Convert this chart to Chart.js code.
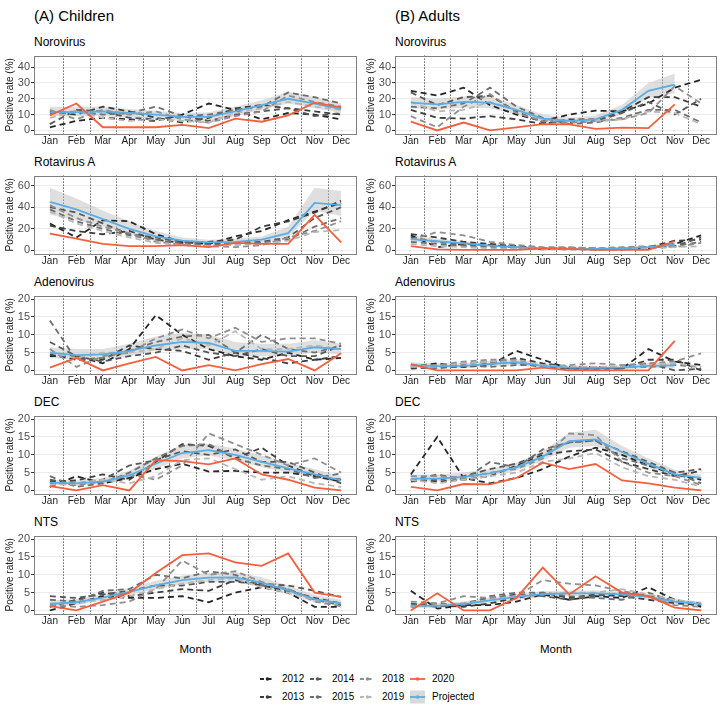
<!DOCTYPE html>
<html><head><meta charset="utf-8">
<script src="https://cdn.jsdelivr.net/npm/chart.js@4.4.1/dist/chart.umd.min.js"></script>
<style>
html,body{margin:0;padding:0;background:#fff;}
#wrap{position:relative;width:722px;height:718px;font-family:"Liberation Sans",Arial,Helvetica,sans-serif;color:#000;overflow:hidden;background:#fff}
.t{position:absolute;white-space:nowrap;line-height:1}
canvas.p{position:absolute}
svg.k{position:absolute}
</style></head><body><div id="wrap"></div>
<script>
const months = ['Jan','Feb','Mar','Apr','May','Jun','Jul','Aug','Sep','Oct','Nov','Dec'];
const years = ['2012','2013','2014','2015','2018','2019'];

// ---------- Children ----------
const chNoroHist = [
  [2,6,8,7,6,10,17,13,7,11,10,7],
  [12,10,15,12,8,5,8,14,16,14,12,10],
  [4,13,12,8,7,9,6,10,12,14,9,11],
  [11,12,10,11,15,9,10,13,15,24,21,17],
  [13,7,13,10,12,7,5,9,12,22,18,15],
  [8,12,8,6,7,6,5,11,14,18,15,13]];
const chNoro2020 = [9.5,17,2,2,2,3.5,1.5,7.5,5.5,9.5,17.5,14.5];
const chNoroProj = [11.5,11.5,12,11,10,8.5,8.5,12,16,20,17,13.5];
const chNoroLo = [9,9,9,8,7.5,6,6,9,13,17,14,11];
const chNoroHi = [15,15,15,13.5,12.5,11,11.5,15,19,24.5,21,17];

const chRotaHist = [
  [25,12,28,27,15,8,6,13,18,28,36,44],
  [23,18,15,18,10,7,8,10,22,27,35,46],
  [40,35,25,15,12,8,6,7,8,12,30,40],
  [38,27,20,14,10,6,5,6,7,10,22,30],
  [42,30,22,16,8,5,4,3,5,12,18,27],
  [36,25,18,12,7,5,4,5,6,9,17,19]];
const chRota2020 = [15.5,11,6,4,4,5,3,7,6,6,33,7.5];
const chRotaProj = [45,38,29,20,13,9,7.5,8,10,16,44,42];
const chRotaLo = [33,28,22,15,9,6,5,5.5,7,12,37,32];
const chRotaHi = [58,48,37,27,18,12,10,11,13,22,58,55];

const chAdenoHist = [
  [4,4,2,6,15.5,10,6,4,3,5,3,3.5],
  [4.5,3,3,7,6,5.5,3,5,3.5,2,3,4],
  [8,4,2.5,4,5,7,5,4,6,4,4,7],
  [14,3,3.5,5.5,8,9.5,10,5,10,6,5,7],
  [6,1,4,5,9,11.5,9,12,8,9,9,7.5],
  [5,3.5,5,5,6,9,7,11,6,6,7,6]];
const chAdeno2020 = [0.8,3.5,0,2,3.8,0,1.5,0,1.8,3.2,0,4.8];
const chAdenoProj = [5,4.3,4.5,5.5,7,8,7.7,5.5,5.5,5.3,6.5,6];
const chAdenoLo = [3.5,3,3,4,5.5,6,6,4,4,4,5,4.5];
const chAdenoHi = [6.5,6,6,7.5,9.5,10.5,10,8,7.5,7.5,8.5,7.5];

const chDecHist = [
  [1,4,2,3.5,6,7.5,5.3,5.5,5,5,4,2.5],
  [2.5,2.8,4.5,3,8,13,12.5,9,12,7,4,3],
  [3,2,3,7,8.5,11,10,11.5,8,8,5,2],
  [4,1,2,5,9,12.5,13,9,7,6,3.5,4.8],
  [2,1.5,2.5,4.5,3,7,16,13,10,7,9,5],
  [1.5,2,3,2,4,8.5,9,6,3,4,2,1]];
const chDec2020 = [1.2,0,1.5,0,8.5,8.2,7.3,9,4.5,3,0.8,0];
const chDecProj = [2.2,2,2.5,4.2,7.5,10.5,11.3,10,8,6.2,4.5,2.8];
const chDecLo = [1.5,1.3,1.8,3.2,6,9,9.8,8.5,6.5,5,3.5,2];
const chDecHi = [3,2.8,3.5,5.5,9.5,12.8,13,11.8,9.8,7.8,6,4];

const chNtsHist = [
  [0,2,4,3.5,3.5,4,2.3,5,6.5,5,1,1],
  [1,3,5,4,5,6,5.5,8.5,7,5.5,3.5,2],
  [4,3.5,4.5,5.5,7,7,8,8,7.5,7,5.5,3.8],
  [3,2.5,5.5,6,10,9,11,10,7,6,3,1.5],
  [1.5,1,1.5,2.5,6,14,10,11,8,6,2.5,1.2],
  [2,2,3,4,6,7.5,8.5,9,6.5,5,3,2]];
const chNts2020 = [1.2,0,2.5,5,10.5,15.5,16,13.5,12.5,16,5,3.8];
const chNtsProj = [1.8,2.3,3.6,5.2,7,8.5,9.2,9.3,7.8,5.6,3.2,2];
const chNtsLo = [1,1.5,2.8,4.3,6,7.3,8,8,6.5,4.5,2.3,1.3];
const chNtsHi = [2.8,3.2,4.5,6.3,8.3,9.8,10.5,10.8,9.3,7,4.3,3];

// ---------- Adults ----------
const adNoroHist = [
  [25,22,27,16,10,6,10,12.5,12,17,27,32],
  [13,8,7.5,9,7,4,7,7,12,21,21,15],
  [24,16,21,22,12,5,5,6,11,18,10,20],
  [15,14,17,27,15,8,4,5,8,13,13,5],
  [9,2,15,23,11,6,5,6,7,11,28,17],
  [18,12,13,18,13,7,6,6,7,12,11,4]];
const adNoro2020 = [5.5,0,5,0,2,4,3.8,1,1.8,1.5,16.5,null];
const adNoroProj = [17.5,16.5,18,17.5,13,7.5,6,7,13,25,29,null];
const adNoroLo = [14,13,14.5,14,10,5,4,5,10,20.5,23.5,null];
const adNoroHi = [21,20,21.5,21.5,16,10,8,9.5,16,30,36,null];

const adRotaHist = [
  [14,3,6,5,3,1,2,1,2,2,6,14],
  [15,12,8,6,4,2,2,2,1,3,9,10],
  [12,8,5,4,3,2,1,1,2,3,4,12],
  [8,6,4,3,2,2,2,1,1,2,4,8],
  [10,17,14,8,5,3,3,2,3,4,3,7],
  [6,4,3,2,2,1,1,1,1,2,3,4]];
const adRota2020 = [4,1,0.5,0.5,0.5,2,1.5,0.5,0.5,0.5,8.5,null];
const adRotaProj = [10.5,8.5,6.5,4.5,3,2,1.5,1.5,2,3,5.5,null];
const adRotaLo = [8,6.5,5,3.5,2.2,1.3,1,1,1.3,2,4,null];
const adRotaHi = [14,11,8.5,6,4,2.8,2.2,2.2,2.8,4.2,7.5,null];

const adAdenoHist = [
  [1,2,1,1.5,5.5,3,0.5,0.5,0.5,6,2.5,1.5],
  [0.5,1,1,2,3.5,2,1,1,0.5,3,3,0],
  [1.5,1,2,2.5,2,1,0.5,0.5,1,2,0,0.5],
  [1,0.5,1.5,1,1.5,1.5,1,1,1,1,1.5,1],
  [1.5,1.5,2.5,3,3,1,1.5,2,1.5,2,2.5,4.8],
  [1,1,2,2.5,2.5,1.5,1,1,1,1.5,2,1]];
const adAdeno2020 = [1.8,0,0,0,0,0.8,0,0,0,0,8.3,null];
const adAdenoProj = [1.5,1.2,1.3,1.8,2.3,1.3,0.8,0.7,0.8,1.3,1.4,null];
const adAdenoLo = [0.8,0.5,0.6,1,1.4,0.6,0.2,0.1,0.2,0.6,0.6,null];
const adAdenoHi = [2.3,2,2.1,2.7,3.2,2.1,1.4,1.3,1.5,2.1,2.3,null];

const adDecHist = [
  [4.5,15,3.5,2,3.5,6,9.5,12,10,7,4.5,3],
  [3,2.5,3,4,7,10,11,11.5,8,6,4,5.5],
  [2.5,3,4,6,7.5,10.5,13.5,14,11,8,5,6],
  [3,4.5,3,8,6.5,11.5,13.5,14,9,7,5,2],
  [4,4,3.5,5,6,9,16,15.5,8,5,4,1.5],
  [3,2,3,4,5,8,9,10.5,6.5,4,3,1]];
const adDec2020 = [1,0,1.8,1.7,3.5,7.8,6,7.4,2.8,2,0.8,0];
const adDecProj = [3.3,3.3,3.8,4.8,6.5,9.5,13.8,14.3,10.8,7.5,4.5,3.5];
const adDecLo = [2.5,2.5,3,4,5.5,8.3,12,12.5,9.5,6.5,3.8,2.8];
const adDecHi = [4.5,4.5,5,6,7.8,11,16.2,17,12.5,9,5.8,4.5];

const adNtsHist = [
  [5.5,0.5,1.5,1.5,2.5,4.5,3,4,3.5,6.5,3,1],
  [1,1.5,1,2,3.5,5,3.5,4.5,4,3,2,1.5],
  [2,1,2,3.5,4.5,4,3,4,5,4,3,1.5],
  [1.5,2,1.5,4,5,5,4,3.5,3,5,2.5,2],
  [2.5,2,4,3.5,4,8.5,7.5,7,5.5,4,1.5,1],
  [1,1.5,2,3,4,4.5,5,5,6,4.5,3,2]];
const adNts2020 = [0,4.8,0,0,3.5,12,4.5,9.6,5,4,0.8,0];
const adNtsProj = [1.3,1.3,1.8,2.8,3.8,4.6,4.8,4.8,4.5,3.8,2.5,1.8];
const adNtsLo = [0.6,0.6,1.1,2,3,3.8,4,4,3.7,3,1.8,1.1];
const adNtsHi = [2,2,2.5,3.6,4.6,5.4,5.6,5.6,5.3,4.6,3.2,2.5];

// ---------- styling (not data) ----------
const FONT = '"Liberation Sans", Arial, Helvetica, sans-serif';
const yearColors = ['#262626','#3d3d3d','#575757','#6e6e6e','#8f8f8f','#b8b8b8'];
const RED = '#f4603d';
const BLUE = '#5aaee3';
const BAND = 'rgba(185,185,185,0.45)';

const scaleNoro = {min:-2.25, max:47.25, step:10};
const scaleRota = {min:-3.3, max:69.3, step:20};
const scale20 = {min:-1, max:21, step:5};

const rows = [
  {title:'Norovirus', sc:scaleNoro, ch:[chNoroHist,chNoro2020,chNoroProj,chNoroLo,chNoroHi], ad:[adNoroHist,adNoro2020,adNoroProj,adNoroLo,adNoroHi]},
  {title:'Rotavirus A', sc:scaleRota, ch:[chRotaHist,chRota2020,chRotaProj,chRotaLo,chRotaHi], ad:[adRotaHist,adRota2020,adRotaProj,adRotaLo,adRotaHi]},
  {title:'Adenovirus', sc:scale20, ch:[chAdenoHist,chAdeno2020,chAdenoProj,chAdenoLo,chAdenoHi], ad:[adAdenoHist,adAdeno2020,adAdenoProj,adAdenoLo,adAdenoHi]},
  {title:'DEC', sc:scale20, ch:[chDecHist,chDec2020,chDecProj,chDecLo,chDecHi], ad:[adDecHist,adDec2020,adDecProj,adDecLo,adDecHi]},
  {title:'NTS', sc:scale20, ch:[chNtsHist,chNts2020,chNtsProj,chNtsLo,chNtsHi], ad:[adNtsHist,adNts2020,adNtsProj,adNtsLo,adNtsHi]}
];

const wrap = document.getElementById('wrap');
function text(str, x, y, size, opts={}) {
  const d = document.createElement('div');
  d.className = 't';
  d.textContent = str;
  d.style.fontSize = size + 'px';
  d.style.left = x + 'px';
  d.style.top = y + 'px';
  if (opts.center) d.style.transform = 'translate(-50%,0)';
  if (opts.color) d.style.color = opts.color;
  wrap.appendChild(d);
  return d;
}

const pts = arr => arr.map((v,i) => ({x:i, y:v}));

const framePlugin = {
  id:'frame',
  beforeDatasetsDraw(chart) {
    const {ctx, chartArea:a, scales:{x}} = chart;
    ctx.save();
    ctx.strokeStyle = '#1a1a1a';
    ctx.lineWidth = 1;
    ctx.setLineDash([1,2]);
    for (let i = 0; i < months.length - 1; i++) {
      const px = Math.round(x.getPixelForValue(i + 0.5)) + 0.5;
      ctx.beginPath();
      ctx.moveTo(px, a.top);
      ctx.lineTo(px, a.bottom);
      ctx.stroke();
    }
    ctx.restore();
  },
  afterDatasetsDraw(chart) {
    const {ctx, chartArea:a} = chart;
    ctx.save();
    ctx.strokeStyle = '#808080';
    ctx.lineWidth = 1;
    ctx.strokeRect(Math.round(a.left) + 0.5, Math.round(a.top) + 0.5, Math.round(a.right - a.left) - 1, Math.round(a.bottom - a.top));
    ctx.restore();
  }
};

function makePanel(left, top, width, sc, d, padRight) {
  const [hist, y2020, proj, lo, hi] = d;
  const c = document.createElement('canvas');
  c.className = 'p';
  c.width = width; c.height = 102;
  c.style.left = left + 'px'; c.style.top = top + 'px';
  c.style.width = width + 'px'; c.style.height = '102px';
  wrap.appendChild(c);
  const ds = [];
  ds.push({label:'2020', data:pts(y2020), borderColor:RED, borderWidth:1.8, pointRadius:0, fill:false, tension:0, order:0});
  ds.push({label:'Projected', data:pts(proj), borderColor:BLUE, borderWidth:1.8, pointRadius:0, fill:false, tension:0, order:1});
  hist.forEach((arr,k) => ds.push({label:years[k], data:pts(arr), borderColor:yearColors[k], borderWidth:1.8, borderDash:[6,4], pointRadius:0, fill:false, tension:0, order:8-k}));
  ds.push({label:'lo', data:pts(lo), borderColor:'rgba(0,0,0,0)', borderWidth:0, pointRadius:0, fill:false, tension:0, order:20});
  const loIndex = ds.length - 1;
  ds.push({label:'hi', data:pts(hi), borderColor:'rgba(0,0,0,0)', borderWidth:0, pointRadius:0, fill:loIndex, backgroundColor:BAND, tension:0, order:19});
  new Chart(c, {
    type:'line',
    data:{datasets:ds},
    options:{
      responsive:false, animation:false, events:[],
      devicePixelRatio:1,
      layout:{padding:{top:5, right:padRight, left:0, bottom:0}},
      plugins:{legend:{display:false}, tooltip:{enabled:false}},
      scales:{
        x:{type:'linear', min:-0.6, max:11.6,
           afterFit:s => { s.height = 16; },
           ticks:{stepSize:1, includeBounds:false, autoSkip:false, maxRotation:0, minRotation:0, padding:0,
                  color:'#1a1a1a', font:{family:FONT, size:10, lineHeight:1},
                  callback:v => months[v]},
           grid:{drawOnChartArea:false, tickLength:2, tickColor:'#333', color:'#333'},
           border:{display:false}},
        y:{type:'linear', min:sc.min, max:sc.max,
           afterFit:s => { s.width = 34; },
           ticks:{stepSize:sc.step, includeBounds:false, padding:1, color:'#4d4d4d', font:{family:FONT, size:11}},
           grid:{color:'#ebebeb', tickColor:'#333', tickLength:3},
           border:{display:false},
           title:{display:true, text:'Positive rate (%)', color:'#1a1a1a', font:{family:FONT, size:10, lineHeight:1.2}, padding:{top:4, bottom:0}}}
      }
    },
    plugins:[framePlugin]
  });
}

text('(A) Children', 34, 8, 15);
text('(B) Adults', 395, 8, 15);
rows.forEach((r, i) => {
  text(r.title, 34, 36 + 120*i, 12);
  text(r.title, 395, 36 + 120*i, 12);
  makePanel(0, 48 + 120*i, 361, r.sc, r.ch, 4);
  makePanel(361, 48 + 120*i, 361, r.sc, r.ad, 5);
});
text('Month', 195.5, 644, 11.5, {center:true});
text('Month', 556, 644, 11.5, {center:true});

// legend
function key(x, y, color, kind) {
  const ns = 'http://www.w3.org/2000/svg';
  const s = document.createElementNS(ns, 'svg');
  s.setAttribute('class','k');
  s.setAttribute('width','17'); s.setAttribute('height','14');
  s.style.left = x + 'px'; s.style.top = (y - 7) + 'px';
  if (kind === 'proj') {
    const r = document.createElementNS(ns,'rect');
    r.setAttribute('x','1'); r.setAttribute('y','0.5'); r.setAttribute('width','15'); r.setAttribute('height','13');
    r.setAttribute('fill','#d9d9d9');
    s.appendChild(r);
  }
  const l = document.createElementNS(ns,'line');
  l.setAttribute('x1','1'); l.setAttribute('x2','16'); l.setAttribute('y1','7'); l.setAttribute('y2','7');
  l.setAttribute('stroke', color); l.setAttribute('stroke-width','1.8');
  if (kind === 'dash') l.setAttribute('stroke-dasharray','4 3.5');
  s.appendChild(l);
  const c = document.createElementNS(ns,'circle');
  c.setAttribute('cx','8.5'); c.setAttribute('cy','7'); c.setAttribute('r','1.8'); c.setAttribute('fill', color);
  s.appendChild(c);
  wrap.appendChild(s);
}
const legendItems = [
  [years[0], yearColors[0], 'dash', 0, 0], [years[2], yearColors[2], 'dash', 1, 0], [years[4], yearColors[4], 'dash', 2, 0], ['2020', RED, 'solid', 3, 0],
  [years[1], yearColors[1], 'dash', 0, 1], [years[3], yearColors[3], 'dash', 1, 1], [years[5], yearColors[5], 'dash', 2, 1], ['Projected', BLUE, 'proj', 3, 1]
];
legendItems.forEach(([lab, col, kind, cx, ry]) => {
  const x = 259 + cx*50, y = 679 + ry*18;
  key(x, y, col, kind);
  text(lab, x + 23, y - 5.5, 10);
});
</script></body></html>
